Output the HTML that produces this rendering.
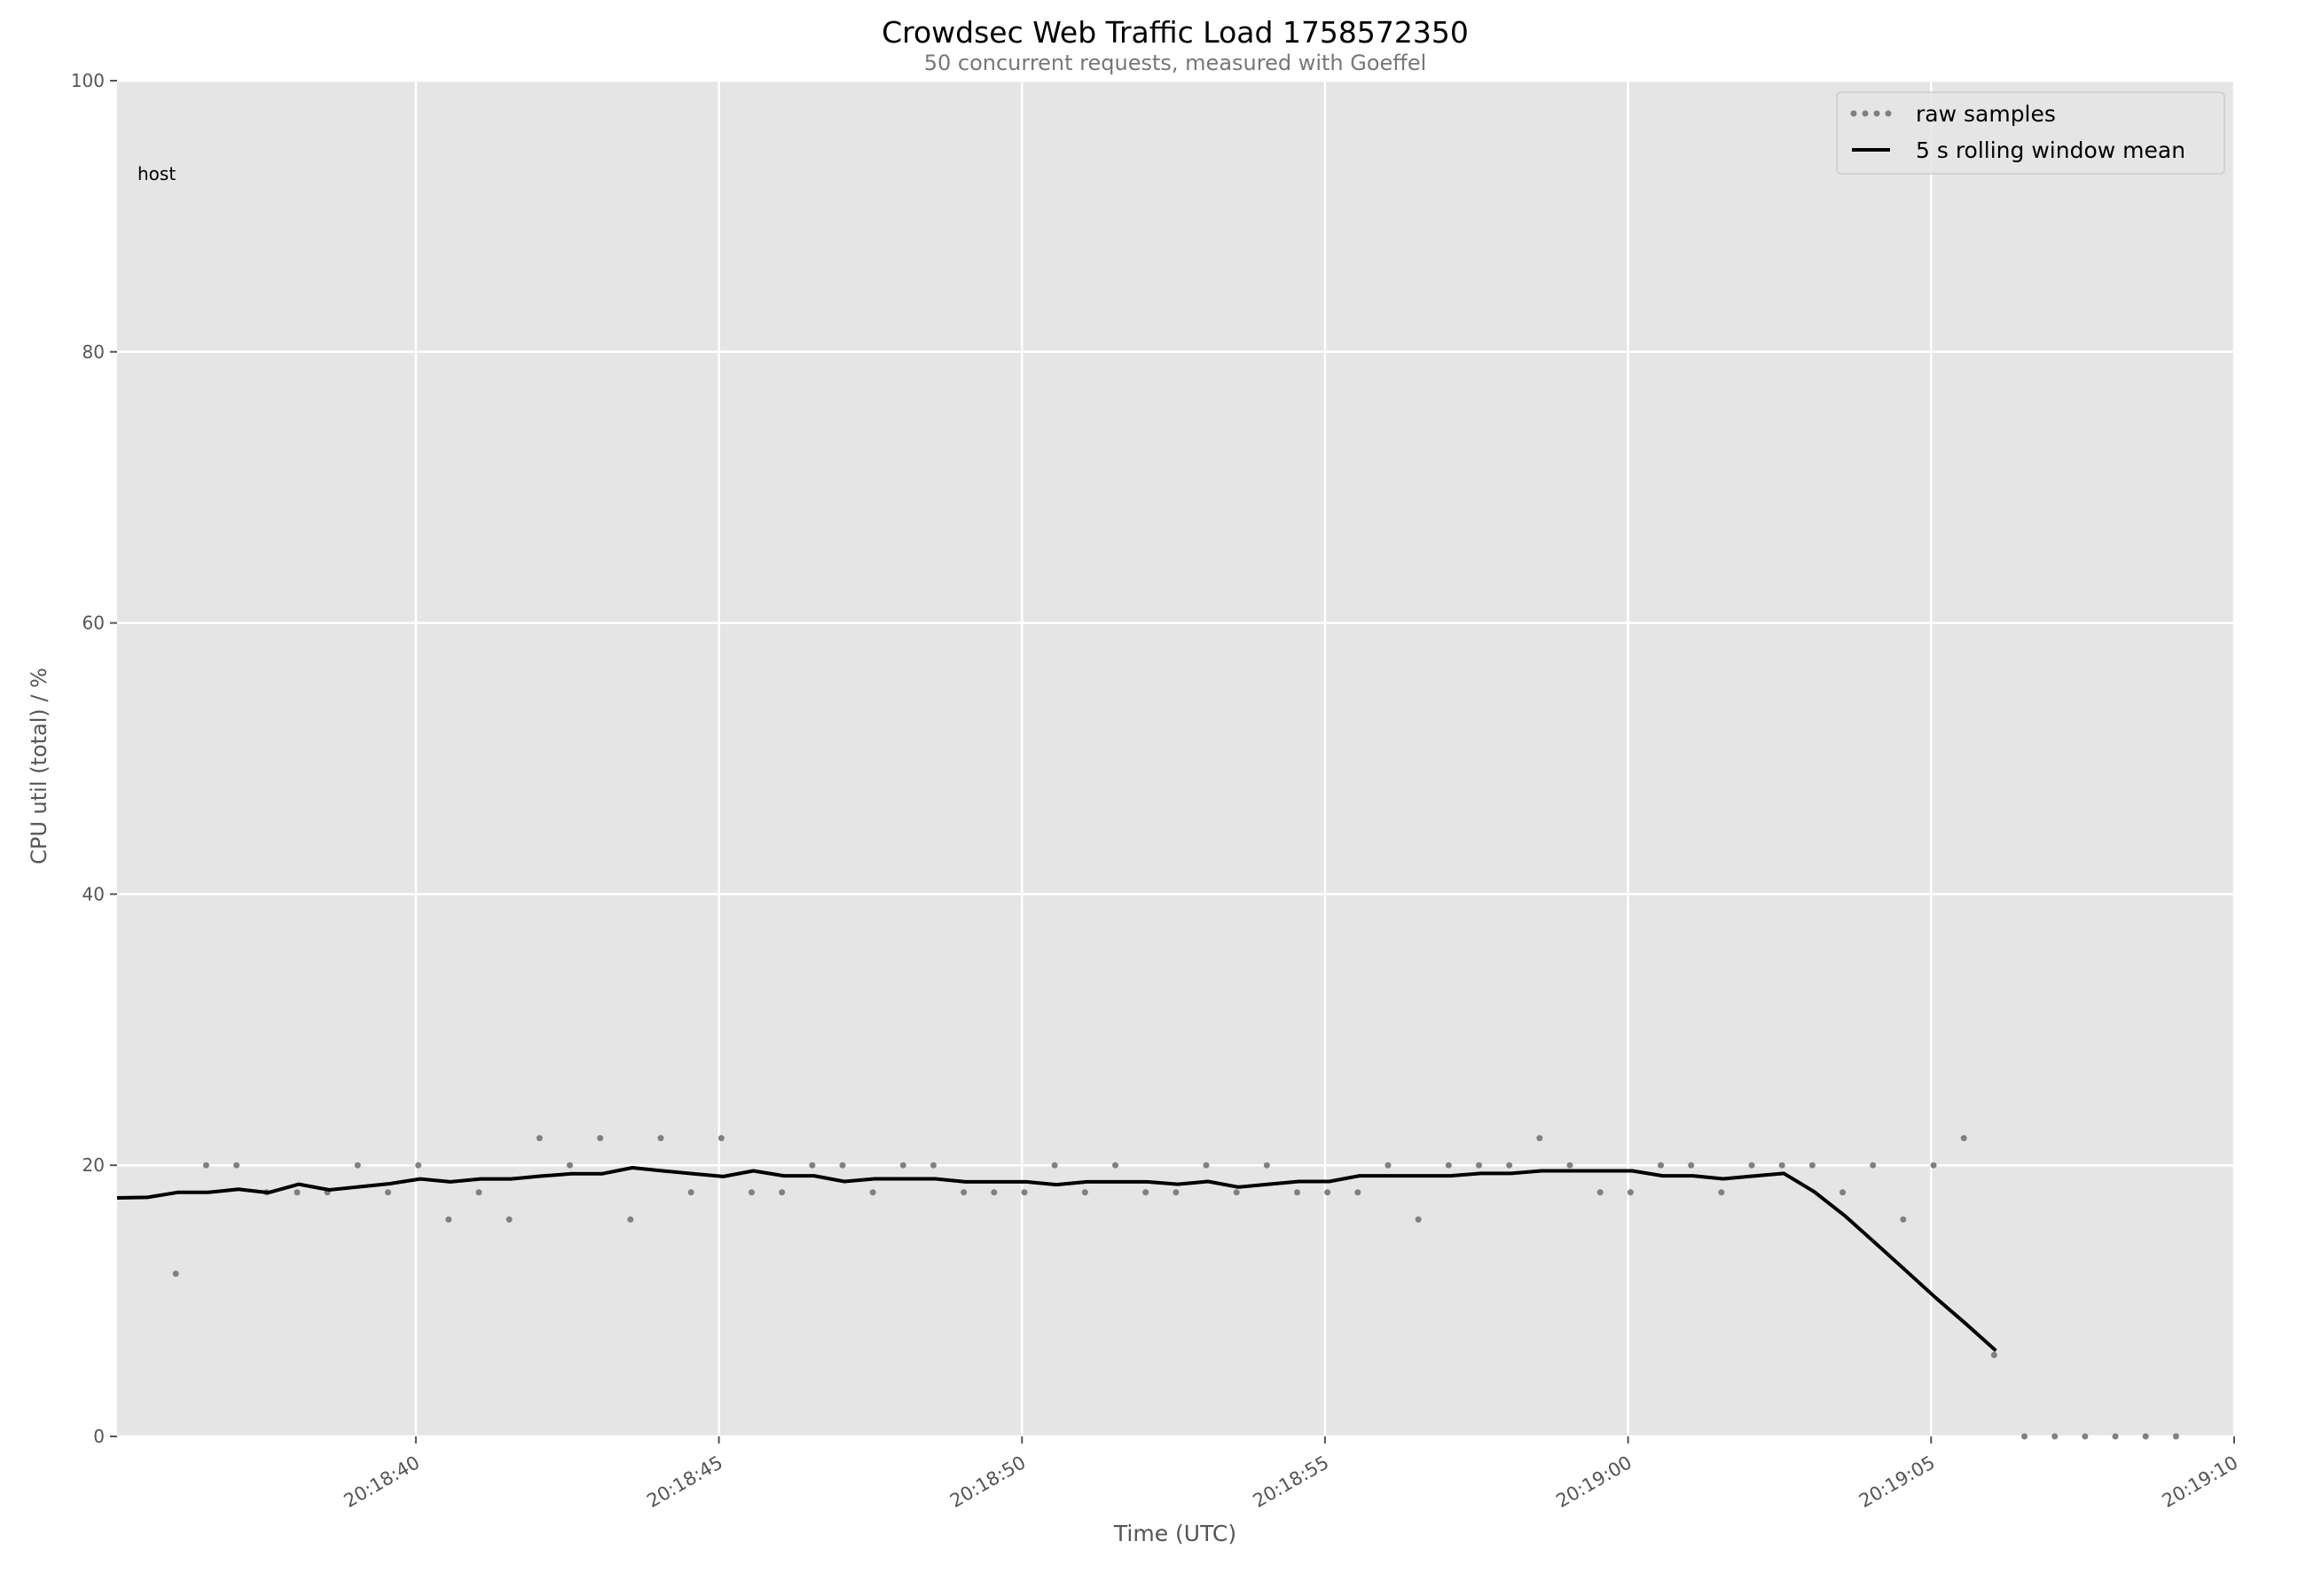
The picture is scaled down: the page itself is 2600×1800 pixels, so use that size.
<!DOCTYPE html>
<html><head><meta charset="utf-8"><style>
html,body{margin:0;padding:0;background:#fff}
svg{display:block;font-family:"DejaVu Sans","Liberation Sans",sans-serif}
</style></head><body>
<svg id="chart" width="2600" height="1800" viewBox="0 0 2600 1800">
<text x="1325" y="48" text-anchor="middle" font-size="33" fill="#000">Crowdsec Web Traffic Load 1758572350</text>
<text x="1325" y="79" text-anchor="middle" font-size="24" fill="#777">50 concurrent requests, measured with Goeffel</text>
<rect x="132" y="91" width="2387" height="1529" fill="#e5e5e5"/>
<g id="grid"></g><g id="axes"></g><g id="marks"></g>
<text x="155" y="203" font-size="20" fill="#000">host</text>
<text transform="translate(52,864) rotate(-90)" text-anchor="middle" font-size="24" fill="#555">CPU util (total) / %</text>
<text x="1325" y="1738" text-anchor="middle" font-size="25" fill="#555">Time (UTC)</text>
<g>
<rect x="2071" y="104" width="437" height="92" rx="5" fill="#e5e5e5" fill-opacity="0.85" stroke="#cccccc" stroke-width="1.5"/>
<g fill="#808080"><circle cx="2090" cy="128" r="3.5"/><circle cx="2103" cy="128" r="3.5"/><circle cx="2116" cy="128" r="3.5"/><circle cx="2129" cy="128" r="3.5"/></g>
<text x="2160" y="137" font-size="25" fill="#000">raw samples</text>
<line x1="2088" y1="169" x2="2131" y2="169" stroke="#000" stroke-width="4"/>
<text x="2160" y="178" font-size="25" fill="#000">5 s rolling window mean</text>
</g>
</svg>
<script>
// seconds relative to 20:18:40
const xTicks = [0, 5, 10, 15, 20, 25, 30];
const xTickLabels = ["20:18:40","20:18:45","20:18:50","20:18:55","20:19:00","20:19:05","20:19:10"];
const yTicks = [0, 20, 40, 60, 80, 100];
const rawStart = -3.96;
const rawStep = 0.5;
const rawValues = [12,20,20,18,18,18,20,18,20,16,18,16,22,20,22,16,22,18,22,18,18,20,20,18,20,20,18,18,18,20,18,20,18,
18,20,18,20,18,18,18,20,16,20,20,20,22,20,18,18,20,20,18,20,20,20,18,20,16,20,22,6,0,0,0,0,0,0];
const meanStart = -4.93;
const meanStep = 0.5;
const meanValues = [17.59,17.63,18.0,18.0,18.23,17.98,18.6,18.18,18.41,18.64,18.99,18.78,18.99,18.99,19.2,19.37,19.37,19.82,19.59,19.38,19.17,19.59,19.22,19.22,18.8,19.0,19.0,19.0,18.78,18.78,18.78,18.57,18.78,18.78,18.78,
18.6,18.8,18.39,18.6,18.8,18.8,19.22,19.22,19.22,19.22,19.4,19.4,19.59,19.59,19.59,19.59,19.22,19.22,19.0,19.2,19.4,18.05,16.3,14.3,12.28,10.25,8.32,6.32];

const NS = "http://www.w3.org/2000/svg";
const X0 = 132, X1 = 2519, Y0 = 1620, Y1 = 91;
const xMin = -4.93, xMax = 30, yMin = 0, yMax = 100;
function xs(t){ return X0 + (t - xMin) / (xMax - xMin) * (X1 - X0); }
function ys(v){ return Y0 - (v - yMin) / (yMax - yMin) * (Y0 - Y1); }
function mk(tag, attrs, parent){ const e = document.createElementNS(NS, tag); for (const k in attrs) e.setAttribute(k, attrs[k]); parent.appendChild(e); return e; }
const grid = document.getElementById('grid'), axes = document.getElementById('axes'), marks = document.getElementById('marks');

yTicks.forEach(v => {
  const y = ys(v);
  const g = mk('line', {x1: X0, x2: X1, y1: y, y2: y, stroke: '#fff', 'stroke-width': 2.5}, grid);
  
  
  const tk = mk('line', {x1: X0 - 8, x2: X0, y1: y, y2: y, stroke: '#555', 'stroke-width': 2}, axes);
  
  
  const tl = mk('text', {x: X0 - 14, y: y + 7, 'text-anchor': 'end', 'font-size': 20, fill: '#555'}, axes);
  tl.textContent = v;
  
  
});
xTicks.forEach((t, i) => {
  const x = xs(t);
  const g = mk('line', {x1: x, x2: x, y1: Y1, y2: Y0, stroke: '#fff', 'stroke-width': 2.5}, grid);
  
  
  const tk = mk('line', {x1: x, x2: x, y1: Y0, y2: Y0 + 8, stroke: '#555', 'stroke-width': 2}, axes);
  
  
  const tl = mk('text', {transform: `translate(${x - 2},${Y0 + 20}) rotate(-30)`, 'text-anchor': 'end', 'font-size': 21, fill: '#555', dy: '0.75em'}, axes);
  tl.textContent = xTickLabels[i];
  
  
});
rawValues.forEach((v, i) => {
  const c = mk('circle', {cx: xs(rawStart + i * rawStep), cy: ys(v), r: 3.5, fill: '#808080'}, marks);
  
  
});
const pts = meanValues.map((v, i) => xs(meanStart + i * meanStep).toFixed(1) + ',' + ys(v).toFixed(1)).join(' ');
const pl = mk('polyline', {points: pts, fill: 'none', stroke: '#000', 'stroke-width': 4, 'stroke-linejoin': 'round'}, marks);


</script>
</body></html>
